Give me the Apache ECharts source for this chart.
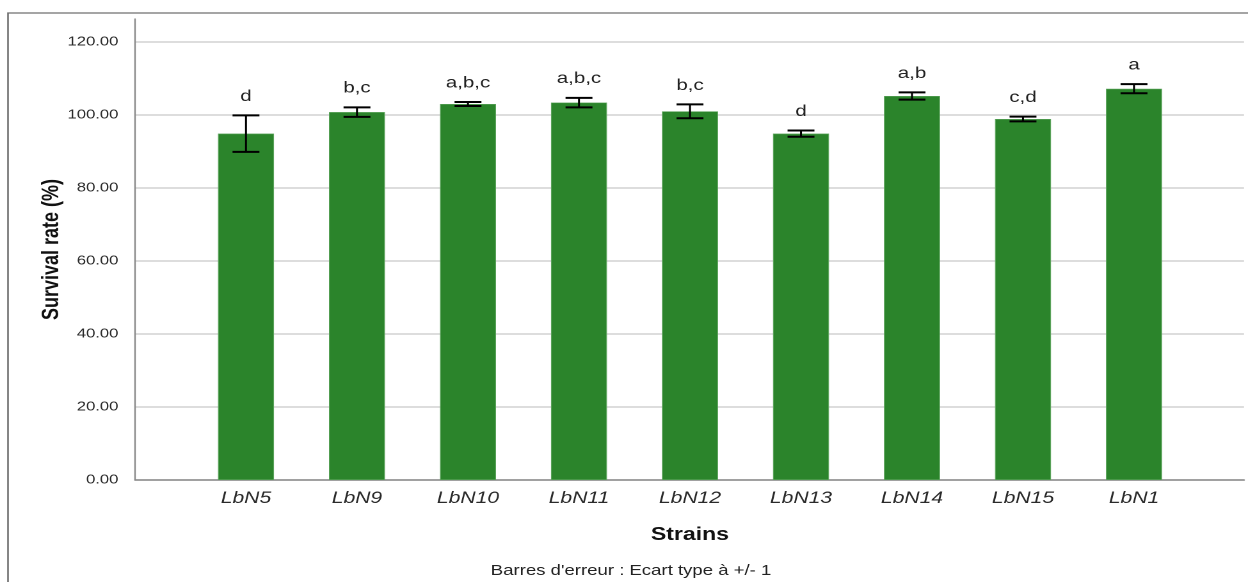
<!DOCTYPE html>
<html>
<head>
<meta charset="utf-8">
<script src="https://cdn.jsdelivr.net/npm/echarts@6/dist/echarts.min.js"></script>
<style>
  html, body { margin: 0; padding: 0; background: #fff; overflow: hidden; }
  /* The chart is laid out at a narrower logical width and widened horizontally */
  #chart { width: 975px; height: 582px; transform: scaleX(1.28); transform-origin: 0 0; }
</style>
</head>
<body>
<div id="chart"></div>
<script>
// Strains and their mean survival rate (%) with standard deviation
const categories = ['LbN5', 'LbN9', 'LbN10', 'LbN11', 'LbN12', 'LbN13', 'LbN14', 'LbN15', 'LbN1'];
const means      = [94.9, 100.8, 103.0, 103.4, 101.0, 94.9, 105.2, 98.9, 107.2];
const stdDevs    = [5.0, 1.3, 0.55, 1.3, 1.9, 0.85, 1.0, 0.65, 1.25];
const groups     = ['d', 'b,c', 'a,b,c', 'a,b,c', 'b,c', 'd', 'a,b', 'c,d', 'a'];
const yTicks     = [0, 20, 40, 60, 80, 100, 120];

const FONT = "'Liberation Sans', Arial, Helvetica, sans-serif";
const Y_MAX = 126.3;

const chart = echarts.init(document.getElementById('chart'), null, { devicePixelRatio: 2 });

const errorData = categories.map((c, i) => [i, means[i] - stdDevs[i], means[i] + stdDevs[i]]);

chart.setOption({
  animation: false,
  backgroundColor: '#ffffff',
  grid: [
    // frame grid: y axis, gridlines and baseline
    { left: 105.5, right: 3.1, top: 19, bottom: 102 },
    // bar grid: categories placed inside the frame
    { left: 148.8, right: 45.7, top: 19, bottom: 102 }
  ],
  xAxis: [
    {
      gridIndex: 0, type: 'value', min: 0, max: 1,
      axisLine: { show: true, lineStyle: { color: '#8a8a8a', width: 1.5 } },
      axisTick: { show: false }, axisLabel: { show: false }, splitLine: { show: false }
    },
    {
      gridIndex: 1, type: 'category', data: categories,
      axisLine: { show: false }, axisTick: { show: false },
      axisLabel: { margin: 10, fontFamily: FONT, fontSize: 16.5, fontStyle: 'italic', color: '#2a2a2a' },
      name: 'Strains', nameLocation: 'middle', nameGap: 46,
      nameTextStyle: { fontFamily: FONT, fontSize: 18, fontWeight: 'bold', color: '#111' }
    }
  ],
  yAxis: [
    {
      gridIndex: 0, type: 'value', min: 0, max: Y_MAX, interval: 20,
      axisLine: { show: true, lineStyle: { color: '#8a8a8a', width: 1.2 } },
      axisTick: { show: false },
      splitLine: { show: true, showMaxLine: false, lineStyle: { color: '#d2d2d2', width: 1.5 } },
      axisLabel: {
        margin: 13, fontFamily: FONT, fontSize: 13, color: '#2a2a2a',
        formatter: v => (yTicks.indexOf(v) >= 0 ? v.toFixed(2) : '')
      },
      name: 'Survival rate (%)', nameLocation: 'middle', nameGap: 56, nameRotate: 90,
      nameMoveOverlap: false,
      nameTextStyle: { fontFamily: FONT, fontSize: 18, fontWeight: 'bold', color: '#111' }
    },
    { gridIndex: 1, type: 'value', min: 0, max: Y_MAX, show: false }
  ],
  series: [
    {
      type: 'bar', xAxisIndex: 1, yAxisIndex: 1,
      data: means, barWidth: 43.75,
      itemStyle: { color: '#2b842b', borderColor: '#5ea55e', borderWidth: 0.6 },
      z: 2
    },
    {
      type: 'custom', xAxisIndex: 1, yAxisIndex: 1,
      data: errorData, z: 5,
      renderItem: function (params, api) {
        const x = api.value(0);
        const lo = api.coord([x, api.value(1)]);
        const hi = api.coord([x, api.value(2)]);
        const half = 10.5;
        const stroke = { stroke: '#000', lineWidth: 2 };
        return {
          type: 'group',
          children: [
            { type: 'line', shape: { x1: hi[0], y1: hi[1], x2: lo[0], y2: lo[1] }, style: { stroke: '#000', lineWidth: 1.5 } },
            { type: 'line', shape: { x1: hi[0] - half, y1: hi[1], x2: hi[0] + half, y2: hi[1] }, style: stroke },
            { type: 'line', shape: { x1: lo[0] - half, y1: lo[1], x2: lo[0] + half, y2: lo[1] }, style: stroke },
            {
              type: 'text', x: hi[0], y: hi[1] - 11,
              style: {
                text: groups[params.dataIndex], align: 'center', verticalAlign: 'bottom',
                fontFamily: FONT, fontSize: 16, fill: '#222'
              }
            }
          ]
        };
      }
    }
  ],
  graphic: [
    {
      type: 'polyline', silent: true,
      shape: { points: [[6.25, 582], [6.25, 13], [975, 13]] },
      style: { stroke: '#707070', lineWidth: 1.3, fill: null }
    },
    {
      type: 'text', x: 493, y: 571, silent: true,
      style: {
        text: "Barres d'erreur : Ecart type à +/- 1", align: 'center', verticalAlign: 'middle',
        fontFamily: FONT, fontSize: 14.5, fill: '#222'
      }
    }
  ]
});
</script>
</body>
</html>
